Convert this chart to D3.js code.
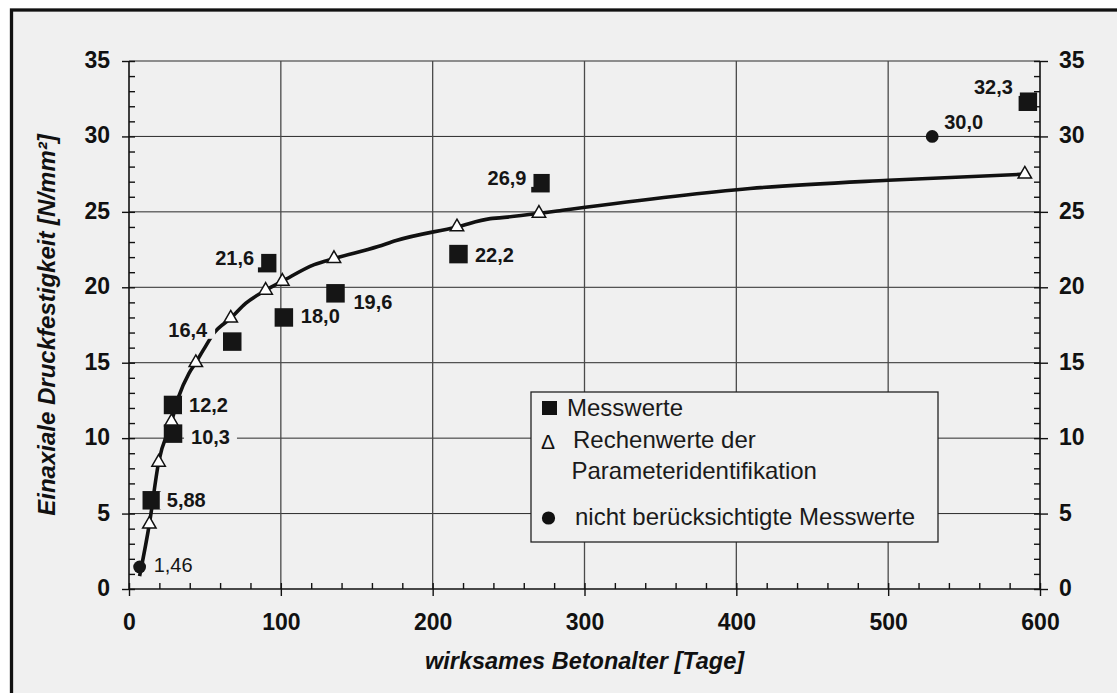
<!DOCTYPE html>
<html>
<head>
<meta charset="utf-8">
<script src="https://cdn.jsdelivr.net/npm/d3@7"></script>
<style>
  html, body { margin: 0; padding: 0; background: #ffffff; }
  svg { display: block; font-family: "Liberation Sans", Arial, Helvetica, sans-serif; }
</style>
</head>
<body>
<svg id="chart" width="1117" height="693"></svg>
<script>
// ---------- data ----------
const xTicks = [0, 100, 200, 300, 400, 500, 600];
const yTicks = [0, 5, 10, 15, 20, 25, 30, 35];

// Messwerte (filled squares): effective age [days], strength [N/mm²]
const measDays   = [15, 29, 29, 68, 91, 102, 136, 217, 271, 592];
const measValues = [5.88, 10.3, 12.2, 16.4, 21.6, 18.0, 19.6, 22.2, 26.9, 32.3];

// nicht berücksichtigte Messwerte (filled circles)
const exclDays   = [7, 529];
const exclValues = [1.46, 30.0];

// Rechenwerte der Parameteridentifikation (open triangles)
const calcDays   = [13.4, 19.5, 28, 44, 67, 90, 101, 135, 216, 270, 590];
const calcValues = [4.3, 8.4, 11.1, 15.0, 17.95, 19.8, 20.4, 21.9, 24.0, 24.9, 27.5];

// fitted curve
const curveDays   = [7, 13.4, 19.5, 28, 32.7, 39.5, 44, 49, 56, 67, 77, 90, 101, 122, 135, 164, 176, 216, 238, 244, 270, 282, 409, 500, 590];
const curveValues = [0.86, 4.3, 8.4, 11.1, 12.75, 14.3, 15.0, 15.85, 16.97, 17.95, 18.95, 19.8, 20.4, 21.5, 21.9, 22.7, 23.1, 24.0, 24.55, 24.6, 24.9, 25.06, 26.55, 27.1, 27.5];

const legendLabels = ["Messwerte", "Rechenwerte der", "Parameteridentifikation", "nicht berücksichtigte Messwerte"];
const xTitle = "wirksames Betonalter [Tage]";
const yTitle = "Einaxiale Druckfestigkeit [N/mm²]";

// ---------- layout (not data) ----------
const measLabelPlace = [[15,0,"start"],[18,3,"start"],[16,0,"start"],[-25,-12,"end"],[-13,-5,"end"],
                        [17,-1.5,"start"],[18,8,"start"],[16.5,1,"start"],[-14,-5.5,"end"],[-15,-15,"end"]];
const exclLabelPlace = [[14,-2,"start",false],[12,-15,"start",true]];

const W = 1117, H = 693;
const BG = "#f0f0f0";
const svg = d3.select("#chart");

// frame
svg.append("rect").attr("x", 11.5).attr("y", 10).attr("width", W + 20).attr("height", H + 20)
  .attr("fill", BG).attr("stroke", "#111").attr("stroke-width", 3.3);

const x = d3.scaleLinear().domain([0, 600]).range([129, 1040]);
const y = d3.scaleLinear().domain([0, 35]).range([589, 61]);

// grid
const grid = svg.append("g");
grid.selectAll("line.h").data(yTicks.filter(d => d > 0)).join("line")
  .attr("x1", x(0)).attr("x2", x(600)).attr("y1", d => y(d)).attr("y2", d => y(d))
  .attr("stroke", "#2a2a2a").attr("stroke-width", 1);
grid.selectAll("line.v").data(xTicks.filter(d => d > 0 && d < 600)).join("line")
  .attr("x1", d => x(d)).attr("x2", d => x(d)).attr("y1", y(0)).attr("y2", y(35))
  .attr("stroke", "#4a4a4a").attr("stroke-width", 1.3);

// axes
const minorX = d3.range(0, 601, 20);
const minorY = d3.range(0, 36, 1);
function styleAxis(g, size) {
  g.select(".domain").remove();
  g.selectAll(".tick line").attr("stroke", "#111").attr("stroke-width", 1.4);
  g.selectAll(".tick text").attr("fill", "#111").attr("font-size", size).attr("font-weight", "bold");
}
const axB = svg.append("g").attr("transform", `translate(0,${y(0)})`)
  .call(d3.axisBottom(x).tickValues(xTicks).tickSize(7).tickPadding(20).tickFormat(d3.format("d")));
styleAxis(axB, 23);
const axBm = svg.append("g").attr("transform", `translate(0,${y(0)})`)
  .call(d3.axisTop(x).tickValues(minorX).tickSize(6).tickFormat(""));
styleAxis(axBm, 0);
const axL = svg.append("g").attr("transform", `translate(${x(0)},0)`)
  .call(d3.axisLeft(y).tickValues(yTicks).tickSize(7).tickPadding(12).tickFormat(d3.format("d")));
styleAxis(axL, 23);
const axLm = svg.append("g").attr("transform", `translate(${x(0)},0)`)
  .call(d3.axisRight(y).tickValues(minorY).tickSize(6).tickFormat(""));
styleAxis(axLm, 0);
const axR = svg.append("g").attr("transform", `translate(${x(600)},0)`)
  .call(d3.axisRight(y).tickValues(yTicks).tickSize(8).tickPadding(11).tickFormat(d3.format("d")));
styleAxis(axR, 23);
const axRm = svg.append("g").attr("transform", `translate(${x(600)},0)`)
  .call(d3.axisLeft(y).tickValues(minorY).tickSize(6).tickFormat(""));
styleAxis(axRm, 0);
[axL, axR].forEach(g => g.selectAll(".tick text").attr("dy", "0.28em"));
axB.selectAll(".tick text").attr("dy", "0.62em");

// axis lines
svg.append("line").attr("x1", x(0)).attr("x2", x(600)).attr("y1", y(0)).attr("y2", y(0)).attr("stroke", "#111").attr("stroke-width", 1.6);
svg.append("line").attr("x1", x(0)).attr("x2", x(0)).attr("y1", y(0)).attr("y2", y(35)).attr("stroke", "#111").attr("stroke-width", 1.6);
svg.append("line").attr("x1", x(600)).attr("x2", x(600)).attr("y1", y(0)).attr("y2", y(35)).attr("stroke", "#111").attr("stroke-width", 1.6);

// axis titles
svg.append("text").attr("x", (x(0) + x(600)) / 2).attr("y", 669).attr("text-anchor", "middle")
  .attr("font-size", 23.5).attr("font-weight", "bold").attr("font-style", "italic").attr("fill", "#111").text(xTitle);
svg.append("text").attr("transform", `translate(55,${(y(0) + y(35)) / 2}) rotate(-90)`).attr("text-anchor", "middle")
  .attr("font-size", 24).attr("font-weight", "bold").attr("font-style", "italic").attr("fill", "#111").text(yTitle);

// legend
const lg = svg.append("g");
lg.append("rect").attr("x", 531).attr("y", 392).attr("width", 407).attr("height", 150)
  .attr("fill", BG).attr("stroke", "#222").attr("stroke-width", 1.3);
lg.append("rect").attr("x", 542).attr("y", 401).attr("width", 15).attr("height", 14).attr("fill", "#111");
lg.append("text").attr("x", 548).attr("y", 449).attr("text-anchor", "middle").attr("font-size", 21).attr("fill", "#111").text("Δ");
lg.append("circle").attr("cx", 548.5).attr("cy", 518).attr("r", 6.6).attr("fill", "#111");
const legPos = [[567, 416], [573, 447.5], [571.5, 479], [575, 524.5]];
legendLabels.forEach((t, i) => {
  lg.append("text").attr("x", legPos[i][0]).attr("y", legPos[i][1]).attr("font-size", 24).attr("fill", "#1a1a1a").text(t);
});

// curve
const curveData = curveDays.map((d, i) => [d, curveValues[i]]);
svg.append("path").datum(curveData)
  .attr("d", d3.line().x(d => x(d[0])).y(d => y(d[1])).curve(d3.curveMonotoneX))
  .attr("fill", "none").attr("stroke", "#111").attr("stroke-width", 3.6).attr("stroke-linejoin", "round");

// triangles
const calcData = calcDays.map((d, i) => [d, calcValues[i]]);
svg.selectAll("path.tri").data(calcData).join("path").attr("class", "tri")
  .attr("transform", d => `translate(${x(d[0])},${y(d[1])})`)
  .attr("d", d3.symbol(d3.symbolTriangle, 78))
  .attr("fill", "#fff").attr("stroke", "#111").attr("stroke-width", 1.5);

// squares
const measData = measDays.map((d, i) => [d, measValues[i]]);
const sq = 18.5;
svg.selectAll("rect.sq").data(measData).join("rect").attr("class", "sq")
  .attr("x", d => x(d[0]) - sq / 2).attr("y", d => y(d[1]) - sq / 2)
  .attr("width", sq).attr("height", sq).attr("fill", "#151515");

// circles
const exclData = exclDays.map((d, i) => [d, exclValues[i]]);
svg.selectAll("circle.ex").data(exclData).join("circle").attr("class", "ex")
  .attr("cx", d => x(d[0])).attr("cy", d => y(d[1])).attr("r", 6.4).attr("fill", "#151515");

// data labels
const fmtLoc = d3.formatLocale({ decimal: ",", thousands: ".", grouping: [3], currency: ["", ""] });
const fmt = v => Math.abs(v * 10 - Math.round(v * 10)) < 1e-6 ? fmtLoc.format(".1f")(v) : fmtLoc.format(".2f")(v);
function addLabel(px, py, v, place, bold) {
  const g = svg.append("g");
  const t = g.append("text").attr("x", px + place[0]).attr("y", py + place[1] + 7.2)
    .attr("text-anchor", place[2]).attr("font-size", 20).attr("font-weight", bold ? "bold" : "normal")
    .attr("fill", "#151515").text(fmt(v));
  const b = t.node().getBBox();
  g.insert("rect", "text").attr("x", b.x - 7).attr("y", b.y + 2).attr("width", b.width + 14).attr("height", b.height - 4).attr("fill", BG);
}
measData.forEach((d, i) => addLabel(x(d[0]), y(d[1]), d[1], measLabelPlace[i], true));
exclData.forEach((d, i) => addLabel(x(d[0]), y(d[1]), d[1], exclLabelPlace[i], exclLabelPlace[i][3]));
</script>
</body>
</html>
